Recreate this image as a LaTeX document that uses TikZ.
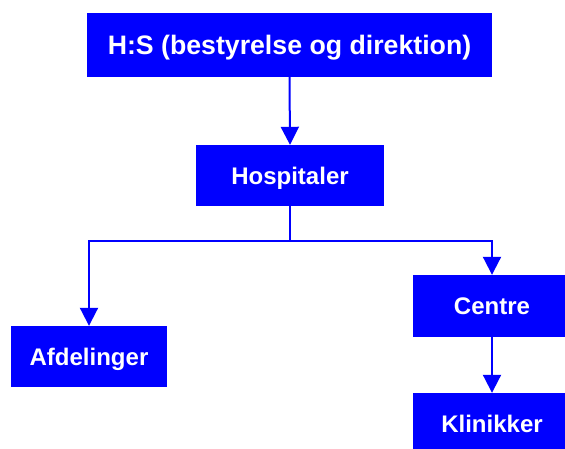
\documentclass[tikz,border=0pt]{standalone}
\usepackage{fontspec}
\setmainfont{Liberation Sans}
\usetikzlibrary{arrows.meta}
\definecolor{box-blue}{RGB}{0,0,255}
\begin{document}
\begin{tikzpicture}[x=1pt,y=-1pt,
	box/.style={fill=box-blue,text=white,inner sep=0pt,text height=17.2pt,text depth=0pt,
		font=\bfseries\fontsize{24}{28}\selectfont},
	flow/.style={draw=box-blue,line width=2pt,-{Triangle[length=18pt,width=18pt]}}]
			\clip (0,0) rectangle (565,448);								% page frame
			\node[box,minimum width=405,minimum height=64,text height=19.1pt,
				font=\bfseries\fontsize{26.7}{31}\selectfont]
				(hs) at (289.5,45) {H:S (bestyrelse og direktion)};				% board
			\node[box,minimum width=188,minimum height=61] (hosp) at (290,175.5) {Hospitaler};	% hospitals
			\node[box,minimum width=156,minimum height=61] (afd) at (89,356.5) {Afdelinger};	% departments
			\node[box,minimum width=158,minimum height=62] (centre) at (492,306) {Centre};	% centres
			\node[box,minimum width=158,minimum height=62] (klin) at (492,424) {Klinikker};	% clinics
			\coordinate (split) at (290,241);									% branch point
			\draw [flow] (hs.south) -- (hosp.north);
			\draw [flow] (hosp.south) -- (split) -| (afd.north);
			\draw [flow] (split) -| (centre.north);
			\draw [flow] (centre.south) -- (klin.north);
		\end{tikzpicture}
\end{document}
